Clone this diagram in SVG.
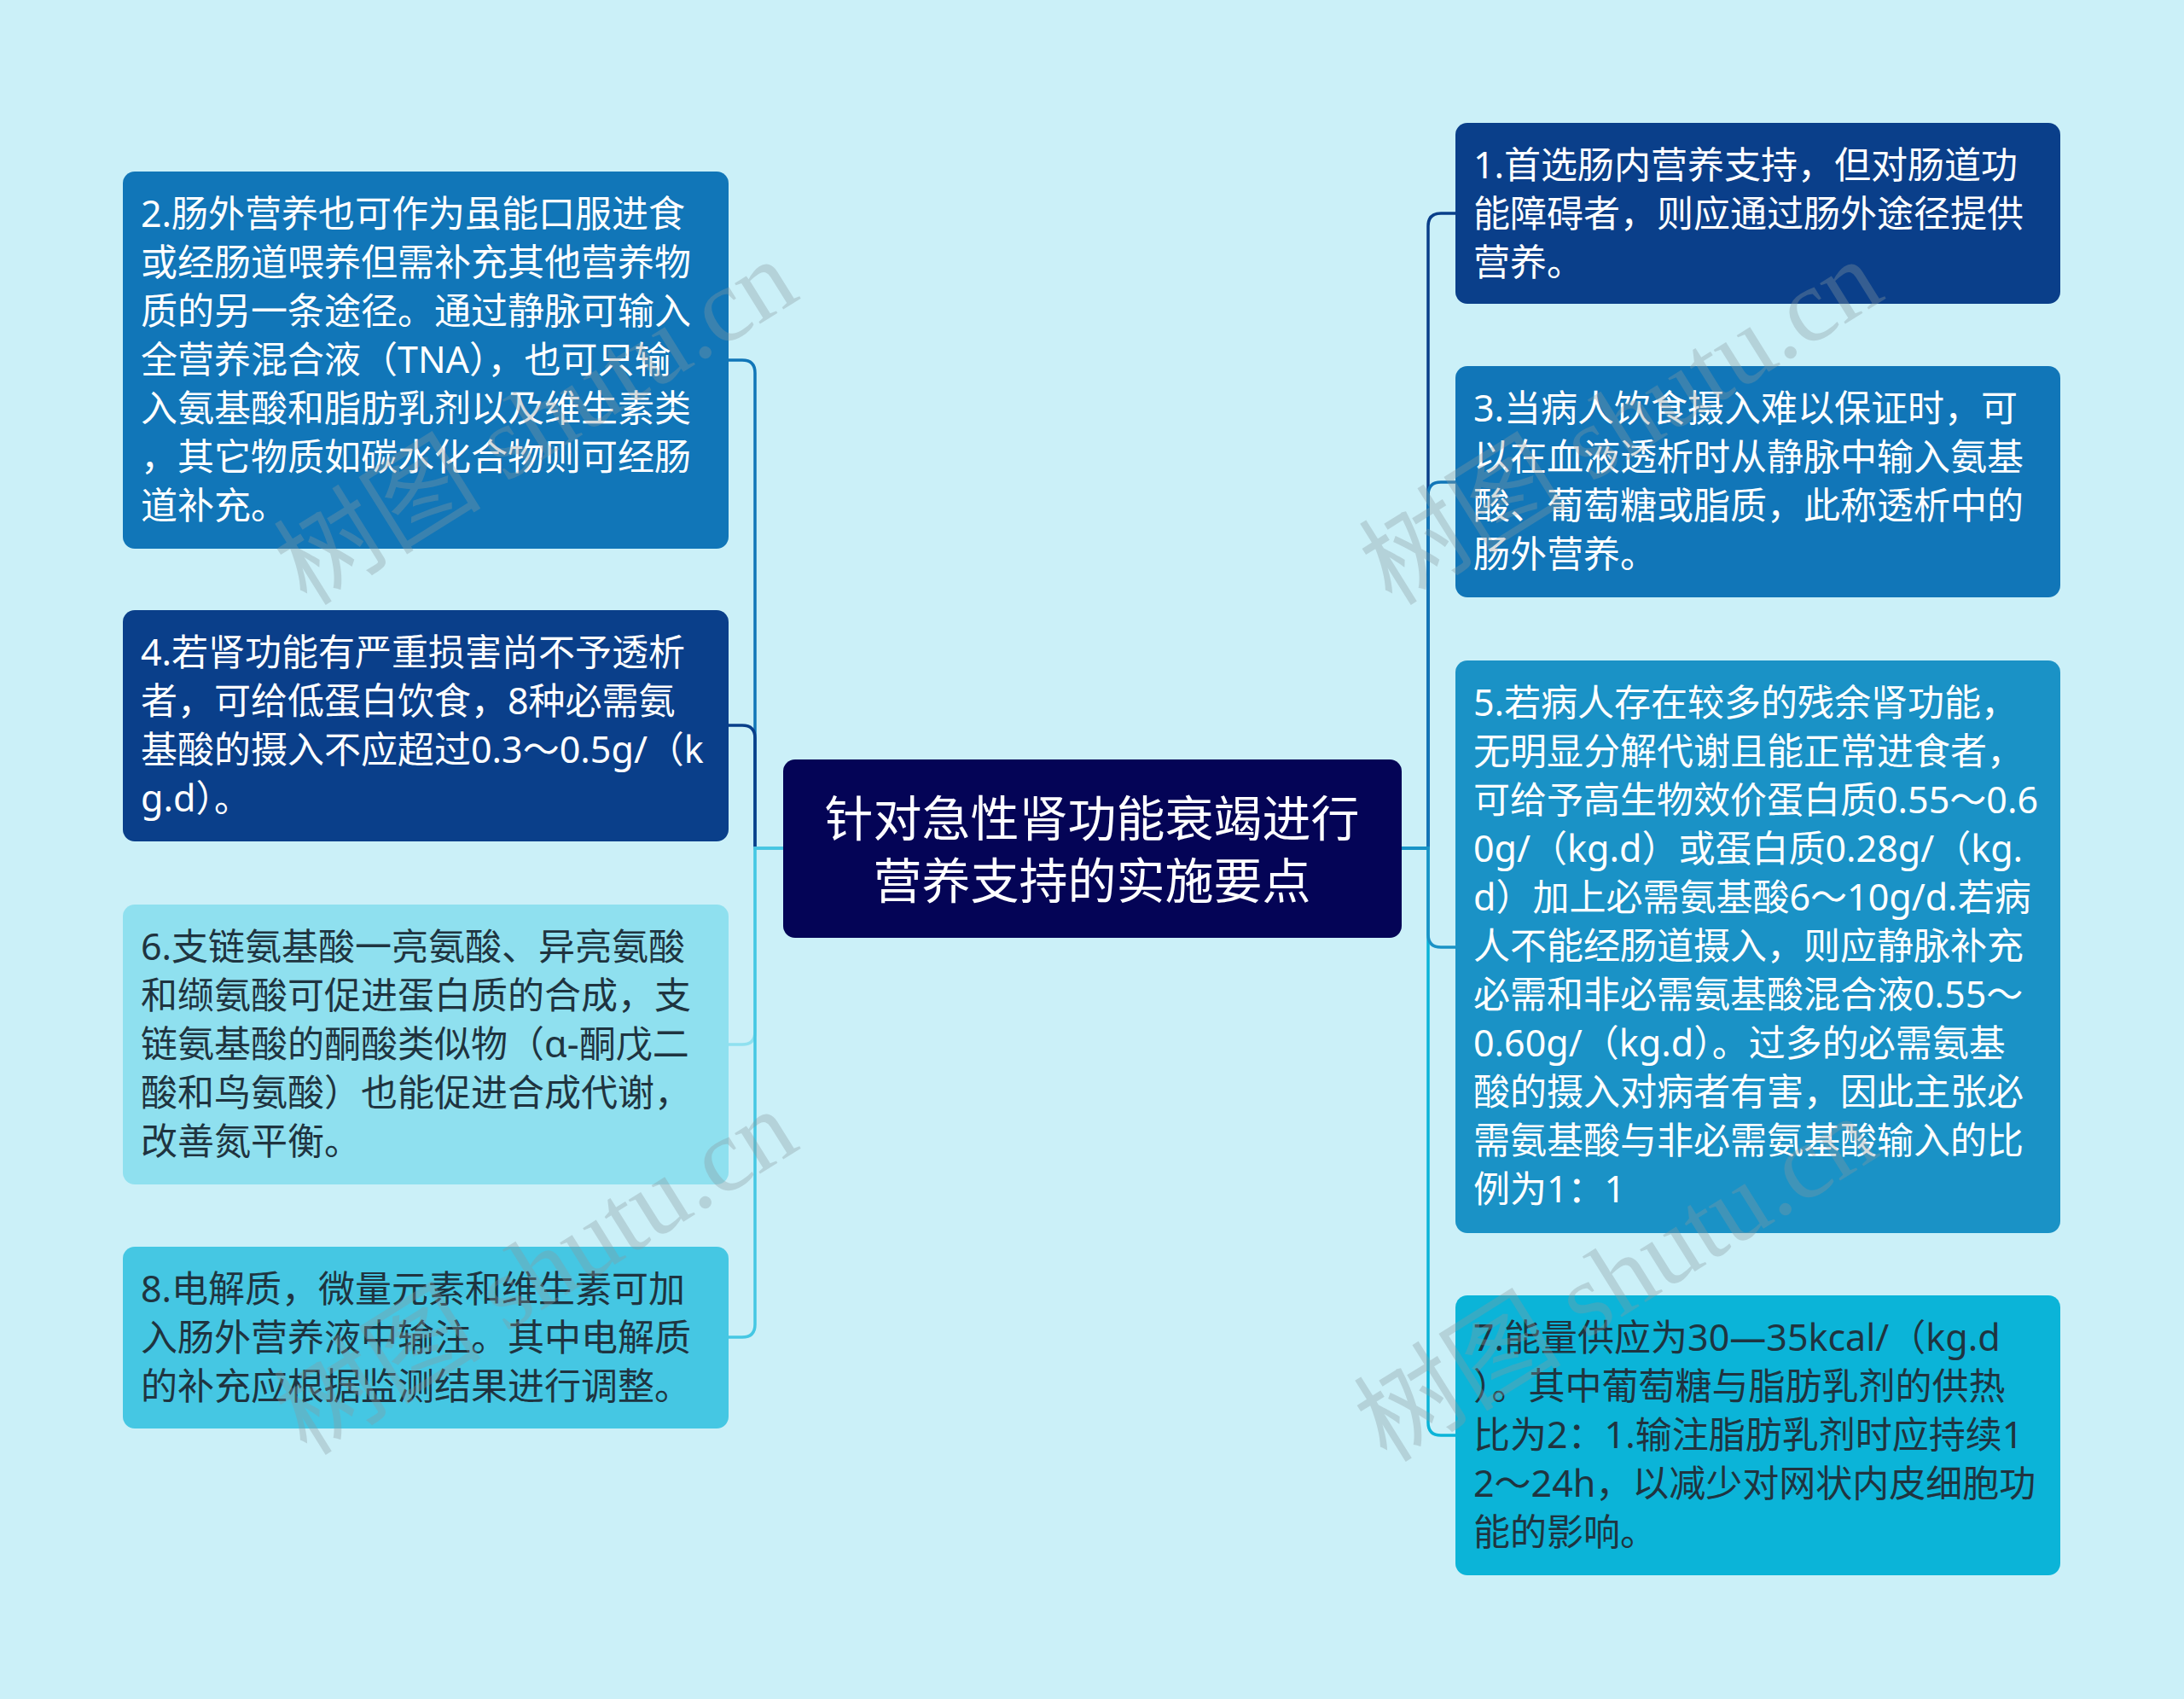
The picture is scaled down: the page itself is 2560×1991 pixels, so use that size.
<svg xmlns="http://www.w3.org/2000/svg" width="2560" height="1991" viewBox="0 0 2560 1991">
<style>
.box{stroke:none}
.t{font-family:"Noto Sans","Noto Sans CJK SC",sans-serif;font-size:43px}
.w{fill:#ffffff}
.d{fill:#1f3440}
.ct{font-family:"Noto Sans","Noto Sans CJK SC",sans-serif;font-size:57px;fill:#ffffff;text-anchor:middle}
.c{fill:none;stroke-width:3.5;stroke-linecap:round}
.wm{font-family:"Liberation Serif","Noto Sans CJK SC",serif;font-size:122px;fill:#8a9aa0;opacity:0.34}
</style>
<rect x="0" y="0" width="2560" height="1991" fill="#cbf0f8"/>
<g id="connectors">
<path class="c" stroke="#1176b8" d="M918,994 H885 V437 Q885,422 870,422 H854"/>
<path class="c" stroke="#0a3f8a" d="M918,994 H885 V865 Q885,850 870,850 H854"/>
<path class="c" stroke="#8fe0ef" d="M918,994 H885 V1209 Q885,1224 870,1224 H854"/>
<path class="c" stroke="#45c7e3" d="M918,994 H885 V1552 Q885,1567 870,1567 H854"/>
<path class="c" stroke="#0a3f8a" d="M1643,994 H1674 V265 Q1674,250 1689,250 H1706"/>
<path class="c" stroke="#1176b8" d="M1643,994 H1674 V580 Q1674,565 1689,565 H1706"/>
<path class="c" stroke="#0bb4d8" d="M1643,994 H1674 V1667 Q1674,1682 1689,1682 H1706"/>
<path class="c" stroke="#1a92c6" d="M1643,994 H1674 V1095 Q1674,1110 1689,1110 H1706"/>
</g>
<g id="center">
<rect class="box" x="918" y="890" width="725" height="209" rx="14" fill="#040456"/>
<text class="ct" x="1280" y="980">针对急性肾功能衰竭进行</text>
<text class="ct" x="1280" y="1053">营养支持的实施要点</text>
</g>
<g id="node2">
<rect class="box" x="144" y="201" width="710" height="442" rx="14" fill="#1176b8"/>
<text class="t w">
<tspan x="165" y="266">2.肠外营养也可作为虽能口服进食</tspan>
<tspan x="165" y="323">或经肠道喂养但需补充其他营养物</tspan>
<tspan x="165" y="380">质的另一条途径。通过静脉可输入</tspan>
<tspan x="165" y="437">全营养混合液（TNA），也可只输</tspan>
<tspan x="165" y="494">入氨基酸和脂肪乳剂以及维生素类</tspan>
<tspan x="165" y="551">，其它物质如碳水化合物则可经肠</tspan>
<tspan x="165" y="608">道补充。</tspan>
</text>
</g>
<g id="node4">
<rect class="box" x="144" y="715" width="710" height="271" rx="14" fill="#0a3f8a"/>
<text class="t w">
<tspan x="165" y="780">4.若肾功能有严重损害尚不予透析</tspan>
<tspan x="165" y="837">者，可给低蛋白饮食，8种必需氨</tspan>
<tspan x="165" y="894">基酸的摄入不应超过0.3～0.5g/（k</tspan>
<tspan x="165" y="951">g.d）。</tspan>
</text>
</g>
<g id="node6">
<rect class="box" x="144" y="1060" width="710" height="328" rx="14" fill="#8fe0ef"/>
<text class="t d">
<tspan x="165" y="1125">6.支链氨基酸一亮氨酸、异亮氨酸</tspan>
<tspan x="165" y="1182">和缬氨酸可促进蛋白质的合成，支</tspan>
<tspan x="165" y="1239">链氨基酸的酮酸类似物（α-酮戊二</tspan>
<tspan x="165" y="1296">酸和鸟氨酸）也能促进合成代谢，</tspan>
<tspan x="165" y="1353">改善氮平衡。</tspan>
</text>
</g>
<g id="node8">
<rect class="box" x="144" y="1461" width="710" height="213" rx="14" fill="#45c7e3"/>
<text class="t d">
<tspan x="165" y="1526">8.电解质，微量元素和维生素可加</tspan>
<tspan x="165" y="1583">入肠外营养液中输注。其中电解质</tspan>
<tspan x="165" y="1640">的补充应根据监测结果进行调整。</tspan>
</text>
</g>
<g id="node1">
<rect class="box" x="1706" y="144" width="709" height="212" rx="14" fill="#0a3f8a"/>
<text class="t w">
<tspan x="1727" y="209">1.首选肠内营养支持，但对肠道功</tspan>
<tspan x="1727" y="266">能障碍者，则应通过肠外途径提供</tspan>
<tspan x="1727" y="323">营养。</tspan>
</text>
</g>
<g id="node3">
<rect class="box" x="1706" y="429" width="709" height="271" rx="14" fill="#1176b8"/>
<text class="t w">
<tspan x="1727" y="494">3.当病人饮食摄入难以保证时，可</tspan>
<tspan x="1727" y="551">以在血液透析时从静脉中输入氨基</tspan>
<tspan x="1727" y="608">酸、葡萄糖或脂质，此称透析中的</tspan>
<tspan x="1727" y="665">肠外营养。</tspan>
</text>
</g>
<g id="node5">
<rect class="box" x="1706" y="774" width="709" height="671" rx="14" fill="#1a92c6"/>
<text class="t w">
<tspan x="1727" y="839">5.若病人存在较多的残余肾功能，</tspan>
<tspan x="1727" y="896">无明显分解代谢且能正常进食者，</tspan>
<tspan x="1727" y="953">可给予高生物效价蛋白质0.55～0.6</tspan>
<tspan x="1727" y="1010">0g/（kg.d）或蛋白质0.28g/（kg.</tspan>
<tspan x="1727" y="1067">d）加上必需氨基酸6～10g/d.若病</tspan>
<tspan x="1727" y="1124">人不能经肠道摄入，则应静脉补充</tspan>
<tspan x="1727" y="1181">必需和非必需氨基酸混合液0.55～</tspan>
<tspan x="1727" y="1238">0.60g/（kg.d）。过多的必需氨基</tspan>
<tspan x="1727" y="1295">酸的摄入对病者有害，因此主张必</tspan>
<tspan x="1727" y="1352">需氨基酸与非必需氨基酸输入的比</tspan>
<tspan x="1727" y="1409">例为1：1</tspan>
</text>
</g>
<g id="node7">
<rect class="box" x="1706" y="1518" width="709" height="328" rx="14" fill="#0bb4d8"/>
<text class="t d">
<tspan x="1727" y="1583">7.能量供应为30—35kcal/（kg.d</tspan>
<tspan x="1727" y="1640">）。其中葡萄糖与脂肪乳剂的供热</tspan>
<tspan x="1727" y="1697">比为2：1.输注脂肪乳剂时应持续1</tspan>
<tspan x="1727" y="1754">2～24h，以减少对网状内皮细胞功</tspan>
<tspan x="1727" y="1811">能的影响。</tspan>
</text>
</g>
<g id="watermarks">
<text class="wm" x="0" y="0" text-anchor="middle" transform="translate(650,530) rotate(-32)">树图 shutu.cn</text>
<text class="wm" x="0" y="0" text-anchor="middle" transform="translate(650,1526) rotate(-32)">树图 shutu.cn</text>
<text class="wm" x="0" y="0" text-anchor="middle" transform="translate(1922,530) rotate(-32)">树图 shutu.cn</text>
<text class="wm" x="0" y="0" text-anchor="middle" transform="translate(1916,1534) rotate(-32)">树图 shutu.cn</text>
</g>
</svg>
